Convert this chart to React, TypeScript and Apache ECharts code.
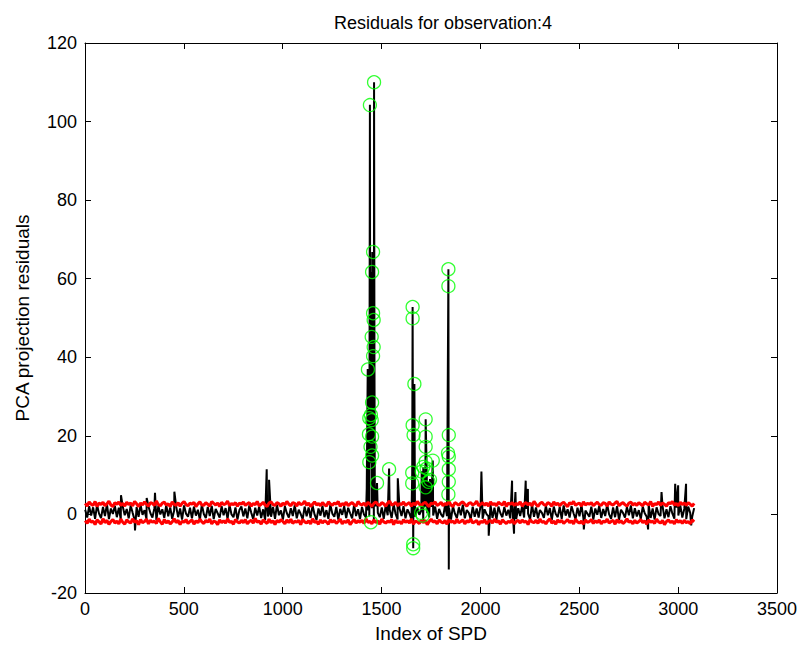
import React, { useEffect, useRef } from "react";
import * as echarts from "echarts";

const TITLE = "Residuals for observation:4";
const X_NAME = "Index of SPD";
const Y_NAME = "PCA projection residuals";

const X_MIN = 0;
const X_MAX = 3500;
const X_STEP = 500;
const Y_MIN = -20;
const Y_MAX = 120;
const Y_STEP = 20;

// residual trace: baseline samples every 10 indices, starting at index 1
const BASE_START = 1;
const BASE_STEP = 10;
const residualBase = [
  1.2,-0.8,2.1,-0.3,1.8,-1.1,2.4,0.2,-0.9,1.9,-0.4,2.6,-1.2,1.5,0.1,2.2,-0.7,1.7,-1.3,2.0,
  -0.2,1.4,-1.0,2.3,0.4,-1.4,1.9,-0.6,2.5,-0.1,1.1,-1.2,2.0,0.3,-0.8,1.6,-1.5,2.2,0.0,1.3,
  -0.9,2.4,-0.5,1.8,-1.1,1.0,2.1,-0.7,1.5,-1.3,2.3,0.2,-0.6,1.7,-1.0,2.0,-0.3,1.2,-1.4,2.5,
  0.1,-0.9,1.9,-0.4,2.2,-1.2,1.4,0.3,-0.8,2.1,-0.2,1.6,-1.1,2.4,0.0,-0.7,1.8,-1.3,1.1,2.0,
  -0.5,1.5,-1.0,2.3,0.4,-1.2,1.7,-0.3,2.0,-0.9,1.3,-1.4,2.2,0.2,-0.6,1.9,-1.1,2.5,-0.2,1.0,
  -1.3,2.1,0.3,-0.8,1.6,-0.4,2.4,-1.0,1.2,0.1,-1.2,2.0,-0.5,1.8,-0.9,2.3,0.0,-1.4,1.5,-0.3,
  2.2,-0.7,1.1,-1.1,2.5,0.2,-0.6,1.9,-1.3,1.4,-0.1,2.1,-0.9,1.7,0.3,-1.0,2.4,-0.4,1.3,-1.2,
  1.9,0.0,-0.8,2.2,-0.5,1.6,-1.4,2.0,0.4,-0.7,1.8,-1.1,2.3,-0.2,1.2,-0.9,2.6,0.1,-1.3,1.5,
  -0.4,2.1,-1.0,1.3,0.2,-1.2,2.4,-0.6,1.7,-0.1,1.0,-1.5,2.2,0.3,-0.8,1.9,-0.3,2.0,-1.1,1.4,
  0.0,-0.7,2.3,-0.4,1.6,-1.3,2.1,0.2,-0.9,1.8,-0.2,2.5,-1.0,1.1,0.4,-1.2,2.0,-0.6,1.5,-0.8,
  2.2,-1.1,1.3,0.1,-0.5,2.4,-0.9,1.7,-1.4,2.0,0.3,-0.7,1.9,-0.3,1.2,-1.0,2.3,0.0,-1.2,1.6,
  -0.4,2.1,-0.8,1.4,0.2,-1.3,2.5,-0.6,1.8,-1.0,1.1,0.4,-0.9,2.2,-0.2,1.6,-1.4,2.0,0.1,-0.7,
  1.9,-1.1,2.3,-0.3,1.3,-0.8,2.1,0.3,-1.2,1.7,-0.5,2.4,-1.0,1.0,0.2,-0.6,2.0,-1.3,1.5,-0.1,
  2.2,-0.9,1.4,-0.4,2.5,0.0,-1.1,1.8,-0.7,2.1,-1.4,1.2,0.4,-0.8,1.9,-0.2,2.3,-1.0,1.6,-0.5,
  1.1,-1.2,2.0,0.3,-0.6,2.4,-0.9,1.5,-1.3,1.8,0.1,-0.4,2.2,-1.0,1.3,-0.7,2.1,0.2,-1.1,1.7,
  -0.3,2.3,-0.8,1.4,-1.2,2.0,0.4,-0.6,1.6,
];

// individual spikes of the residual trace
const spikeIndex = [
  182, 253, 312, 354, 452, 919, 925, 931,
  1425, 1430, 1432, 1436, 1438, 1441, 1443, 1445, 1447, 1449, 1451, 1453, 1455, 1457, 1459, 1462, 1464, 1466, 1467, 1477,
  1538, 1582, 1655, 1657, 1660, 1663, 1666, 1669,
  1703, 1711, 1716, 1723, 1728, 1737, 1745, 1759,
  1838, 1840,
  2005, 2042, 2160, 2170, 2177, 2229, 2240, 2523, 2848, 2916, 2985, 3000, 3040, 3066,
];
const spikeValue = [
  4.9, -4.1, 4.2, 5.5, 5.8, 11.5, -0.5, 8.8,
  6.7, 37, 1, 25, -0.5, 104.3, 13, 61.7, 20, 45, 17, 66.8, 28, 51, 15, 110, 40, 2, 6.7, 8,
  11.7, 9.2, 10.6, 52.8, -8.6, 20, 33.2, 1,
  11, 12, 2, 24.2, 12, 8.3, 9, 13.7,
  62.4, -14,
  10.9, -5.4, 8.6, -4.9, 5.7, 8.6, 6.5, -3.8, -3.8, 5.7, 7.8, 7.4, 7.8, -2.8,
];

// control limits sampled every 10 indices
const LIMIT_START = 1;
const LIMIT_STEP = 10;
const upperLimit = [
  2.8,2.1,3.2,2.6,2.3,3.3,2.0,2.9,2.5,3.1,2.2,2.7,3.4,2.4,2.0,3.0,2.6,3.2,2.3,2.8,
  2.1,3.1,2.5,2.9,2.2,3.3,2.7,2.0,2.9,2.4,3.2,2.6,2.1,3.0,2.8,2.3,3.4,2.5,2.2,2.9,
  3.1,2.4,2.7,2.0,3.2,2.6,2.3,3.0,2.1,2.8,3.3,2.5,2.2,2.9,2.6,3.1,2.0,2.7,3.2,2.4,
  2.3,3.0,2.6,2.1,3.3,2.8,2.4,2.9,2.0,3.1,2.5,2.7,3.4,2.2,2.8,2.5,3.0,2.1,2.9,2.6,
  3.2,2.3,2.7,3.0,2.1,2.8,2.5,3.3,2.2,2.6,3.1,2.4,2.0,2.9,3.2,2.5,2.3,3.0,2.7,2.1,
  2.9,2.4,3.3,2.6,2.2,3.0,2.8,2.1,3.1,2.5,2.7,3.4,2.3,2.9,2.0,2.6,3.2,2.4,2.8,2.2,
  3.0,2.5,2.1,3.2,2.7,2.3,2.9,2.6,3.3,2.0,2.8,2.4,3.1,2.2,2.7,3.0,2.5,2.1,3.3,2.6,
  2.4,2.9,2.2,3.1,2.6,2.0,2.8,3.2,2.5,2.3,3.0,2.7,2.1,2.9,3.4,2.4,2.6,3.1,2.2,2.8,
  2.5,3.2,2.3,2.7,3.0,2.1,2.9,2.4,3.3,2.6,2.2,2.8,3.1,2.5,2.0,2.9,2.7,3.2,2.3,2.6,
  3.1,2.2,2.8,2.5,3.3,2.4,2.0,3.0,2.7,2.3,2.9,3.2,2.6,2.1,2.8,3.0,2.4,2.7,3.4,2.2,
  2.6,3.0,2.3,2.9,2.1,3.2,2.5,2.8,2.2,3.1,2.7,2.4,3.3,2.0,2.9,2.6,3.0,2.3,2.8,2.5,
  3.2,2.1,2.7,3.0,2.4,2.9,2.2,3.3,2.6,2.0,2.8,3.1,2.5,2.3,3.0,2.7,2.1,3.2,2.4,2.9,
  2.2,2.8,3.1,2.5,2.0,3.0,2.6,3.3,2.3,2.7,2.9,2.1,3.2,2.4,2.8,2.6,3.0,2.2,2.7,3.1,
  2.5,2.3,3.0,2.8,2.1,3.2,2.6,2.4,2.9,3.3,2.2,2.7,3.0,2.5,2.1,2.9,3.1,2.4,2.8,2.3,
  3.0,2.6,2.2,3.1,2.7,2.4,3.3,2.0,2.8,2.5,3.2,2.3,2.9,2.6,2.1,3.0,2.7,3.3,2.4,2.8,
  2.2,3.1,2.5,2.9,2.3,3.0,2.6,2.1,2.8,
];
const lowerLimit = [
  -1.6,-2.3,-1.2,-2.0,-1.7,-2.6,-1.4,-1.9,-2.4,-1.1,-2.1,-1.5,-2.5,-1.8,-1.3,-2.2,-1.7,-2.4,-1.2,-2.0,
  -2.5,-1.4,-1.9,-2.2,-1.1,-2.0,-1.6,-2.6,-1.3,-2.1,-1.8,-1.2,-2.4,-1.5,-2.0,-1.7,-2.3,-1.0,-1.9,-2.5,
  -1.3,-2.2,-1.6,-2.4,-1.9,-1.1,-2.1,-1.5,-2.6,-1.7,-2.0,-1.3,-2.3,-1.8,-1.4,-2.5,-1.6,-2.1,-1.2,-1.9,
  -2.3,-1.5,-2.0,-1.2,-2.4,-1.7,-1.9,-2.6,-1.4,-2.1,-1.6,-2.2,-1.1,-2.0,-1.8,-2.5,-1.3,-1.9,-2.2,-1.5,
  -2.1,-1.3,-2.4,-1.8,-1.5,-2.2,-1.0,-2.0,-1.7,-2.5,-1.4,-1.9,-2.3,-1.2,-2.1,-1.6,-2.6,-1.5,-2.0,-1.3,
  -1.8,-2.4,-1.4,-2.1,-1.2,-2.3,-1.7,-2.0,-1.5,-2.6,-1.3,-1.9,-2.2,-1.6,-2.4,-1.1,-2.0,-1.8,-2.5,-1.4,
  -2.2,-1.6,-1.9,-2.5,-1.3,-2.0,-1.5,-2.3,-1.8,-1.2,-2.4,-1.7,-2.1,-1.4,-2.6,-1.9,-1.3,-2.2,-1.6,-2.0,
  -1.5,-2.3,-1.1,-2.0,-1.8,-2.4,-1.4,-2.1,-1.6,-2.5,-1.2,-1.9,-2.2,-1.7,-2.0,-1.3,-2.6,-1.5,-2.1,-1.8,
  -2.4,-1.3,-2.0,-1.6,-2.2,-1.1,-2.5,-1.7,-1.9,-2.3,-1.4,-2.1,-1.5,-2.6,-1.8,-1.2,-2.0,-1.6,-2.4,-1.4,
  -1.9,-2.2,-1.5,-2.5,-1.3,-2.0,-1.7,-2.3,-1.2,-2.1,-1.8,-1.4,-2.4,-1.6,-2.0,-1.1,-2.2,-1.9,-1.5,-2.6,
  -1.7,-2.1,-1.3,-2.4,-1.8,-1.5,-2.2,-1.2,-2.0,-1.6,-2.5,-1.4,-1.9,-2.3,-1.7,-2.1,-1.3,-2.4,-1.8,-1.5,
  -2.2,-1.4,-2.0,-1.7,-2.6,-1.3,-1.9,-2.1,-1.5,-2.3,-1.2,-2.0,-1.8,-2.4,-1.6,-1.1,-2.2,-1.7,-2.5,-1.4,
  -2.0,-1.5,-2.3,-1.8,-1.3,-2.1,-1.6,-2.4,-1.2,-1.9,-2.2,-1.7,-2.5,-1.4,-2.0,-1.8,-1.3,-2.3,-1.6,-2.1,
  -1.4,-2.4,-1.7,-2.0,-1.2,-2.2,-1.8,-1.5,-2.5,-1.3,-2.1,-1.6,-2.3,-1.9,-1.1,-2.0,-1.7,-2.4,-1.5,-2.2,
  -1.8,-1.3,-2.1,-1.6,-2.5,-1.4,-2.0,-1.7,-2.3,-1.2,-1.9,-2.2,-1.5,-2.6,-1.8,-1.4,-2.1,-1.7,-2.4,-1.3,
  -2.0,-1.6,-2.3,-1.5,-2.1,-1.8,-2.4,-1.4,-1.9,
];

// flagged observations (green circles)
const outlierIndex = [
  1462, 1441, 1457, 1452, 1457, 1460, 1450, 1460, 1457, 1431, 1452, 1446, 1438, 1450, 1436, 1452, 1444, 1452, 1438, 1477, 1446,
  1538,
  1657, 1657, 1666, 1657, 1662, 1655, 1655, 1660, 1660,
  1723, 1723, 1723, 1723, 1711, 1728, 1703, 1745, 1723, 1759, 1737, 1700, 1708,
  1838, 1838, 1840, 1836, 1840, 1840, 1840, 1838,
];
const outlierValue = [
  110.0, 104.2, 66.8, 61.7, 51.2, 49.5, 45.2, 42.6, 40.3, 36.9, 28.5, 25.3, 24.5, 24.0, 20.4, 19.8, 17.2, 15.0, 13.3, 8.0, -2.0,
  11.5,
  52.8, 49.9, 33.2, 22.7, 20.2, 10.6, 7.9, -7.6, -8.6,
  24.2, 19.8, 17.2, 13.4, 12.1, 11.7, 10.9, 8.8, 6.9, 13.7, 8.3, 0.4, -0.3,
  62.4, 58.1, 20.2, 15.6, 14.7, 11.5, 8.3, 5.1,
];

export default function App() {
  const ref = useRef<HTMLDivElement>(null);

  useEffect(() => {
    if (!ref.current) return;
    const chart = echarts.init(ref.current, undefined, { renderer: "svg" });

    const residual: number[][] = residualBase.map((v, i) => [BASE_START + i * BASE_STEP, v]);
    spikeIndex.forEach((x, i) => residual.push([x, spikeValue[i]]));
    residual.sort((a, b) => a[0] - b[0]);

    const upper = upperLimit.map((v, i) => [LIMIT_START + i * LIMIT_STEP, v]);
    const lower = lowerLimit.map((v, i) => [LIMIT_START + i * LIMIT_STEP, v]);
    const outliers = outlierIndex.map((x, i) => [x, outlierValue[i]]);

    const font = "'Liberation Sans', Arial, sans-serif";
    const tickLabel = {
      color: "#000",
      fontSize: 18,
      fontFamily: font,
      formatter: (v: number) => String(v),
    };

    chart.setOption({
      animation: false,
      backgroundColor: "#fff",
      title: {
        text: TITLE,
        left: 438,
        top: 9,
        textAlign: "center",
        textStyle: { color: "#000", fontSize: 18, fontWeight: "normal", fontFamily: font },
      },
      grid: { left: 85, right: 25, top: 43, bottom: 57, containLabel: false },
      xAxis: [
        {
          type: "value",
          min: X_MIN,
          max: X_MAX,
          interval: X_STEP,
          position: "bottom",
          name: X_NAME,
          nameLocation: "middle",
          nameGap: 31,
          nameTextStyle: { color: "#000", fontSize: 19, fontFamily: font },
          axisLine: { show: true, onZero: false, lineStyle: { color: "#000", width: 1 } },
          axisTick: { show: true, inside: true, length: 6, lineStyle: { color: "#000" } },
          axisLabel: { ...tickLabel, margin: 7 },
          splitLine: { show: false },
        },
        {
          type: "value",
          min: X_MIN,
          max: X_MAX,
          interval: X_STEP,
          position: "top",
          axisLine: { show: true, onZero: false, lineStyle: { color: "#000", width: 1 } },
          axisTick: { show: true, inside: true, length: 6, lineStyle: { color: "#000" } },
          axisLabel: { show: false },
          splitLine: { show: false },
        },
      ],
      yAxis: [
        {
          type: "value",
          min: Y_MIN,
          max: Y_MAX,
          interval: Y_STEP,
          position: "left",
          name: Y_NAME,
          nameLocation: "middle",
          nameGap: 53,
          nameRotate: 90,
          nameTextStyle: { color: "#000", fontSize: 19, fontFamily: font },
          axisLine: { show: true, onZero: false, lineStyle: { color: "#000", width: 1 } },
          axisTick: { show: true, inside: true, length: 6, lineStyle: { color: "#000" } },
          axisLabel: { ...tickLabel, margin: 8 },
          splitLine: { show: false },
        },
        {
          type: "value",
          min: Y_MIN,
          max: Y_MAX,
          interval: Y_STEP,
          position: "right",
          axisLine: { show: true, onZero: false, lineStyle: { color: "#000", width: 1 } },
          axisTick: { show: true, inside: true, length: 6, lineStyle: { color: "#000" } },
          axisLabel: { show: false },
          splitLine: { show: false },
        },
      ],
      series: [
        {
          name: "residual",
          type: "line",
          data: residual,
          symbol: "none",
          lineStyle: { color: "#000", width: 2 },
          z: 2,
        },
        {
          name: "upper",
          type: "line",
          data: upper,
          symbol: "none",
          lineStyle: { color: "#ff0000", width: 3 },
          z: 3,
        },
        {
          name: "lower",
          type: "line",
          data: lower,
          symbol: "none",
          lineStyle: { color: "#ff0000", width: 3 },
          z: 3,
        },
        {
          name: "outliers",
          type: "scatter",
          data: outliers,
          symbol: "circle",
          symbolSize: 13,
          itemStyle: { color: "rgba(0,0,0,0)", borderColor: "#00ff00", borderWidth: 1.3 },
          z: 4,
        },
      ],
    });

    return () => chart.dispose();
  }, []);

  return (
    <div
      ref={ref}
      style={{ position: "fixed", left: 0, top: 0, width: 802, height: 650, background: "#fff" }}
    />
  );
}
